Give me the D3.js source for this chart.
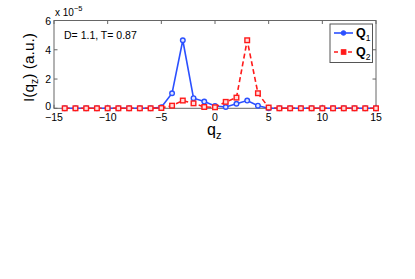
<!DOCTYPE html>
<html>
<head>
<meta charset="utf-8">
<script src="https://cdn.jsdelivr.net/npm/d3@7"></script>
<style>
  body { margin: 0; background: #fff; }
  text { font-family: "Liberation Sans", Arial, sans-serif; }
</style>
</head>
<body>
<div id="chart"></div>
<script>
// q_z positions and intensities (units of 1e-5)
var qz = d3.range(-14, 16);
var q1 = [0, 0, 0, 0, 0, 0, 0, 0, 0, 0.07, 1.03, 4.65, 0.69, 0.46, 0.16,
          0.09, 0.31, 0.53, 0.18, 0, 0, 0, 0, 0, 0, 0, 0, 0, 0, 0];
var q2 = [0, 0, 0, 0, 0, 0, 0, 0, 0, 0.02, 0.18, 0.53, 0.34, 0.09, 0.07,
          0.44, 0.73, 4.65, 1.03, 0.05, 0, 0, 0, 0, 0, 0, 0, 0, 0, 0];
var xTicks = [-15, -10, -5, 0, 5, 10, 15];
var yTicks = [0, 2, 4, 6];

var width = 415, height = 279;
var blue = "#2b50ff", red = "#ff1a1a";

var svg = d3.select("#chart").append("svg")
  .attr("width", width)
  .attr("height", height);

var x = d3.scaleLinear().domain([-15, 15]).range([54, 376]);
var y = d3.scaleLinear().domain([0, 6]).range([108.3, 20.5]);

// axes box
svg.append("rect")
  .attr("x", x(-15)).attr("y", y(6))
  .attr("width", x(15) - x(-15)).attr("height", y(0) - y(6))
  .attr("fill", "#fff").attr("stroke", "#666").attr("stroke-width", 1);

// inward ticks (MATLAB style)
var tl = 3.5;
xTicks.forEach(function(t) {
  svg.append("line").attr("x1", x(t)).attr("x2", x(t))
    .attr("y1", y(0)).attr("y2", y(0) - tl).attr("stroke", "#666");
  svg.append("line").attr("x1", x(t)).attr("x2", x(t))
    .attr("y1", y(6)).attr("y2", y(6) + tl).attr("stroke", "#666");
});
yTicks.forEach(function(t) {
  svg.append("line").attr("x1", x(-15)).attr("x2", x(-15) + tl)
    .attr("y1", y(t)).attr("y2", y(t)).attr("stroke", "#666");
  svg.append("line").attr("x1", x(15)).attr("x2", x(15) - tl)
    .attr("y1", y(t)).attr("y2", y(t)).attr("stroke", "#666");
});

// tick labels
svg.selectAll("text.xtick").data(xTicks).enter().append("text")
  .attr("class", "xtick")
  .attr("x", function(d) { return x(d); })
  .attr("y", y(0) + 12.5)
  .attr("text-anchor", "middle")
  .style("font-size", "10.5px")
  .text(function(d) { return d < 0 ? "\u2212" + Math.abs(d) : d; });

svg.selectAll("text.ytick").data(yTicks).enter().append("text")
  .attr("class", "ytick")
  .attr("x", x(-15) - 3)
  .attr("y", function(d) { return y(d) + (d === 0 ? 2 : 4); })
  .attr("text-anchor", "end")
  .style("font-size", "10.5px")
  .text(function(d) { return d; });

// exponent
var ex = svg.append("text").attr("x", 55).attr("y", 16).style("font-size", "10px");
ex.append("tspan").text("x 10");
ex.append("tspan").attr("dy", -5).style("font-size", "7.5px").text("\u22125");

// axis labels
var xl = svg.append("text").attr("x", 207).attr("y", 135).style("font-size", "16px");
xl.append("tspan").text("q");
xl.append("tspan").attr("dy", 4).style("font-size", "11px").text("z");

var yl = svg.append("text")
  .attr("transform", "translate(33.5," + 67.5 + ") rotate(-90)")
  .attr("text-anchor", "middle")
  .style("font-size", "15.5px");
yl.append("tspan").text("I(q");
yl.append("tspan").attr("dy", 4).style("font-size", "10.5px").text("z");
yl.append("tspan").attr("dy", -4).text(") (a.u.)");

// annotation
svg.append("text").attr("x", 64).attr("y", 39).style("font-size", "10.5px")
  .text("D= 1.1, T= 0.87");

var line = d3.line()
  .x(function(d) { return x(d[0]); })
  .y(function(d) { return y(d[1]); });

var d1 = qz.map(function(q, i) { return [q, q1[i]]; });
var d2 = qz.map(function(q, i) { return [q, q2[i]]; });

svg.append("path").datum(d1).attr("d", line)
  .attr("fill", "none").attr("stroke", blue).attr("stroke-width", 1.6);
svg.selectAll("circle.q1").data(d1).enter().append("circle")
  .attr("class", "q1")
  .attr("cx", function(d) { return x(d[0]); })
  .attr("cy", function(d) { return y(d[1]); })
  .attr("r", 2.3)
  .attr("fill", "#dfe6ff").attr("stroke", blue).attr("stroke-width", 1.4);

svg.append("path").datum(d2).attr("d", line)
  .attr("fill", "none").attr("stroke", red).attr("stroke-width", 1.6)
  .attr("stroke-dasharray", "5,3");
svg.selectAll("rect.q2").data(d2).enter().append("rect")
  .attr("class", "q2")
  .attr("x", function(d) { return x(d[0]) - 2.3; })
  .attr("y", function(d) { return y(d[1]) - 2.3; })
  .attr("width", 4.6).attr("height", 4.6)
  .attr("fill", "#ffdede").attr("stroke", red).attr("stroke-width", 1.4);

// legend
var lg = svg.append("g");
lg.append("rect").attr("x", 330).attr("y", 24).attr("width", 42.5).attr("height", 38.5)
  .attr("fill", "#fff").attr("stroke", "#555").attr("stroke-width", 1);
lg.append("line").attr("x1", 334).attr("x2", 353).attr("y1", 33).attr("y2", 33)
  .attr("stroke", blue).attr("stroke-width", 1.6);
lg.append("circle").attr("cx", 343.5).attr("cy", 33).attr("r", 2.3)
  .attr("fill", blue).attr("stroke", blue);
lg.append("line").attr("x1", 334).attr("x2", 353).attr("y1", 52).attr("y2", 52)
  .attr("stroke", red).attr("stroke-width", 1.6).attr("stroke-dasharray", "4,3");
lg.append("rect").attr("x", 341.3).attr("y", 49.7).attr("width", 4.6).attr("height", 4.6)
  .attr("fill", red).attr("stroke", red);
[["1", 37], ["2", 56]].forEach(function(e) {
  var t = lg.append("text").attr("x", 356).attr("y", e[1]).style("font-size", "12.5px")
    .style("font-weight", "bold");
  t.append("tspan").text("Q");
  t.append("tspan").attr("dy", 3.5).style("font-size", "8.5px").style("font-weight", "normal").text(e[0]);
});
</script>
</body>
</html>
